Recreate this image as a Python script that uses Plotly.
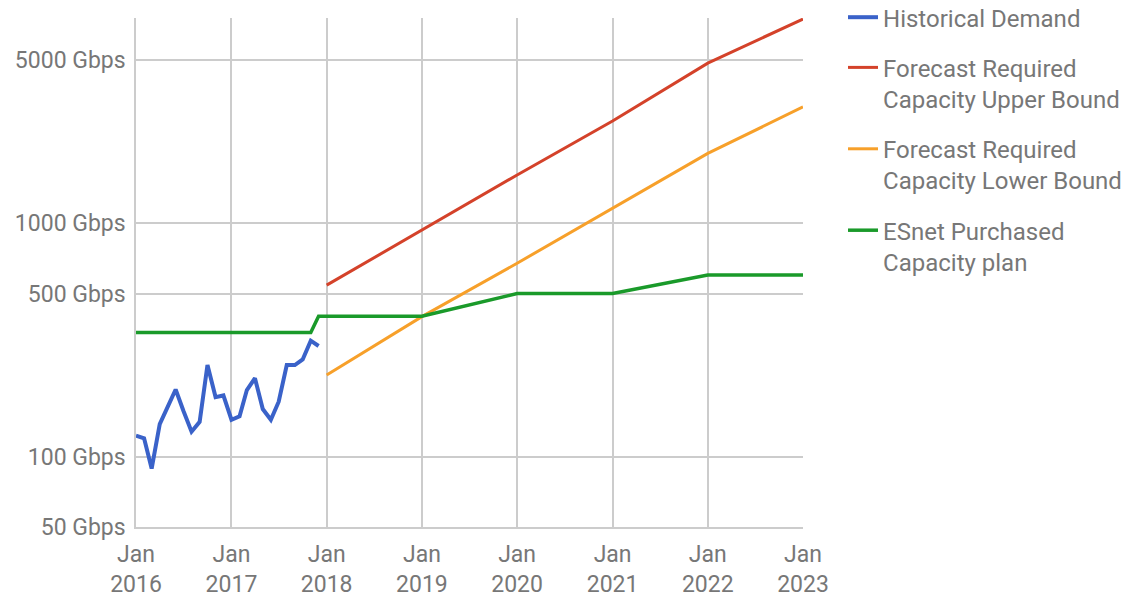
import plotly.graph_objects as go

# Historical demand (monthly, Gbps)
hist_dates = ["2016-01-01", "2016-02-01", "2016-03-01", "2016-04-01", "2016-05-01", "2016-06-01",
              "2016-07-01", "2016-08-01", "2016-09-01", "2016-10-01", "2016-11-01", "2016-12-01",
              "2017-01-01", "2017-02-01", "2017-03-01", "2017-04-01", "2017-05-01", "2017-06-01",
              "2017-07-01", "2017-08-01", "2017-09-01", "2017-10-01", "2017-11-01", "2017-12-01"]
hist_values = [123, 120, 89, 138, 163, 194, 157, 128, 141, 247, 180, 183,
               144, 149, 193, 217, 160, 144, 172, 247, 247, 261, 314, 298]

# Forecasts (yearly, Gbps)
fc_dates = ["2018-01-01", "2019-01-01", "2020-01-01", "2021-01-01", "2022-01-01", "2023-01-01"]
upper_values = [543, 935, 1610, 2740, 4850, 7490]
lower_values = [224, 398, 674, 1155, 1990, 3150]

# Purchased capacity plan (Gbps)
plan_dates = ["2016-01-01", "2017-11-01", "2017-12-01", "2019-01-01", "2020-01-01",
              "2021-01-01", "2022-01-01", "2023-01-01"]
plan_values = [340, 340, 400, 400, 500, 500, 600, 600]

x_tick_vals = ["2016-01-01", "2017-01-01", "2018-01-01", "2019-01-01", "2020-01-01",
               "2021-01-01", "2022-01-01", "2023-01-01"]
x_tick_text = ["Jan<br>2016", "Jan<br>2017", "Jan<br>2018", "Jan<br>2019", "Jan<br>2020",
               "Jan<br>2021", "Jan<br>2022", "Jan<br>2023"]
y_tick_vals = [50, 100, 500, 1000, 5000]
y_tick_text = ["50 Gbps", "100 Gbps", "500 Gbps", "1000 Gbps", "5000 Gbps"]

names = ["Historical Demand",
         "Forecast Required<br>Capacity Upper Bound",
         "Forecast Required<br>Capacity Lower Bound",
         "ESnet Purchased<br>Capacity plan"]
colors = ["#3a62c9", "#d4422a", "#f7a02a", "#1a9a2a"]

fig = go.Figure()
fig.add_trace(go.Scatter(x=hist_dates, y=hist_values, mode="lines", name=names[0],
                         line=dict(color=colors[0], width=4), legendgroup="a"))
fig.add_trace(go.Scatter(x=fc_dates, y=upper_values, mode="lines", name=names[1],
                         line=dict(color=colors[1], width=3), legendgroup="b"))
fig.add_trace(go.Scatter(x=fc_dates, y=lower_values, mode="lines", name=names[2],
                         line=dict(color=colors[2], width=3), legendgroup="c"))
fig.add_trace(go.Scatter(x=plan_dates, y=plan_values, mode="lines", name=names[3],
                         line=dict(color=colors[3], width=3.5), legendgroup="d"))

font_color = "#777777"
grid_color = "#cccccc"
fig.update_layout(
    width=1127, height=597,
    margin=dict(l=136, r=324, t=18, b=70, autoexpand=False),
    paper_bgcolor="white", plot_bgcolor="white",
    font=dict(family="Roboto", size=23, color=font_color),
    showlegend=True,
    legend=dict(x=1.06, xanchor="left", y=1.045, yanchor="top", valign="top",
                traceorder="grouped", tracegroupgap=16, itemwidth=30,
                font=dict(family="Roboto", size=24, color=font_color),
                bgcolor="rgba(0,0,0,0)"),
    xaxis=dict(type="date", range=["2016-01-01", "2023-01-01"],
               tickmode="array", tickvals=x_tick_vals, ticktext=x_tick_text,
               showgrid=True, gridcolor=grid_color, gridwidth=1.5,
               showline=True, linecolor=grid_color, linewidth=1.5,
               ticks="", zeroline=False, ticklabelstandoff=6, automargin=False),
    yaxis=dict(type="log", range=[1.69897, 3.879],
               tickmode="array", tickvals=y_tick_vals, ticktext=y_tick_text,
               showgrid=True, gridcolor=grid_color, gridwidth=1.5,
               showline=True, linecolor=grid_color, linewidth=1.5,
               ticks="", zeroline=False, ticklabelstandoff=4, automargin=False),
)

fig.write_html("out.html")
